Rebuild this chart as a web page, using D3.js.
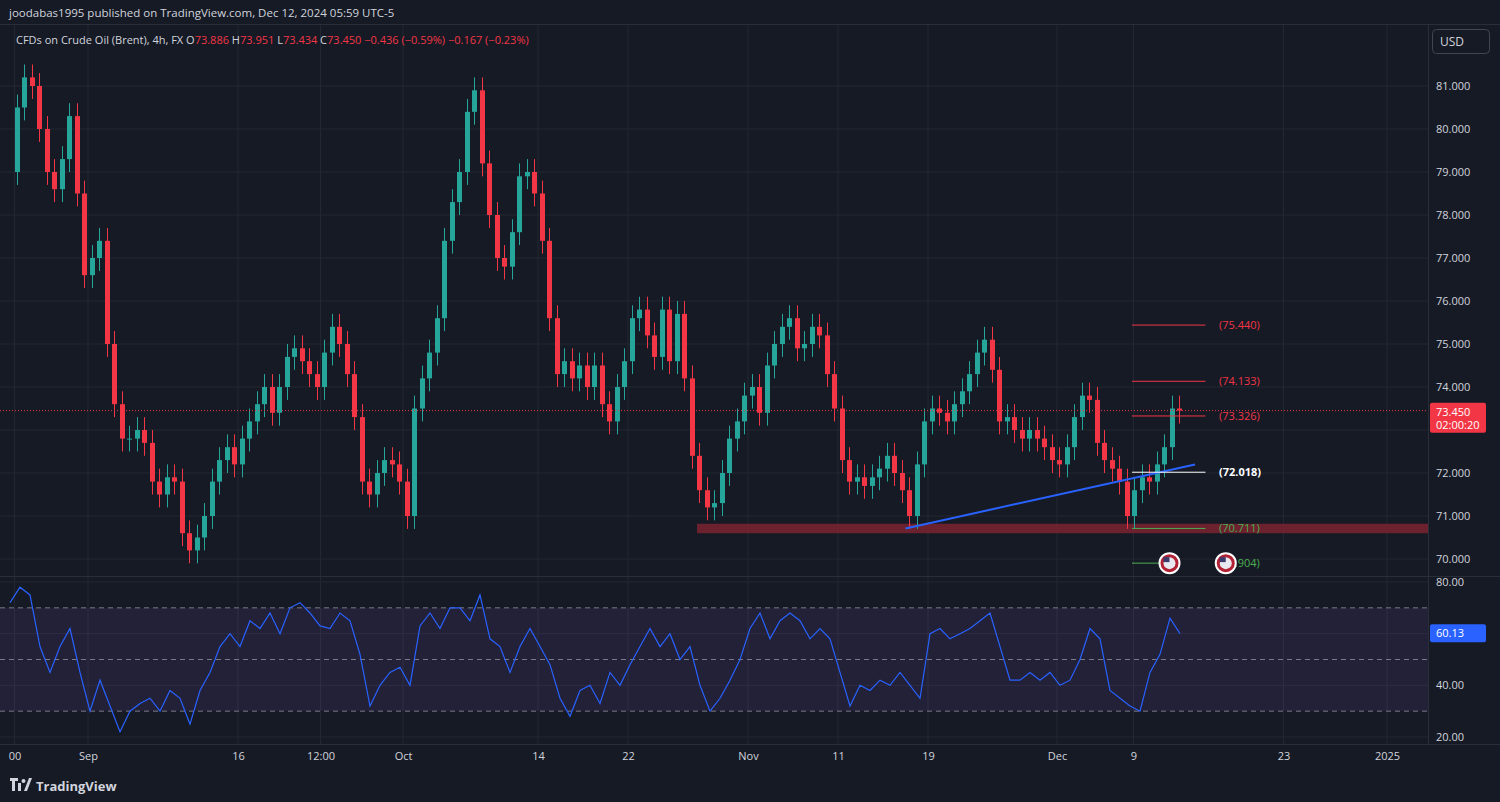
<!DOCTYPE html>
<html>
<head>
<meta charset="utf-8">
<script src="https://cdn.jsdelivr.net/npm/d3@7"></script>
<style>
  html, body { margin: 0; padding: 0; background: #161a25; }
  svg { display: block; font-family: "Open Sans", "DejaVu Sans", sans-serif; }
</style>
</head>
<body>
<svg id="chart" width="1500" height="802"></svg>
<script>
'use strict';

// 12h closes, starting Aug 26 (two per trading day)
var closes = [
  80.5, 81.2, 81.0, 80.0, 79.0, 78.6, 79.3, 80.3, 78.5, 76.6,
  77.0, 77.4, 75.0, 73.6, 72.8, 72.8, 73.0, 72.7, 71.8, 71.5,
  71.9, 71.8, 70.6, 70.2, 70.5, 71.0, 71.8, 72.3, 72.6, 72.2,
  72.8, 73.2, 73.6, 74.0, 73.4, 74.0, 74.7, 74.9, 74.6, 74.3,
  74.0, 74.8, 75.4, 75.0, 74.3, 73.3, 71.8, 71.5, 72.0, 72.3,
  72.2, 71.8, 71.0, 73.5, 74.2, 74.8, 75.6, 77.4, 78.3, 79.0,
  80.4, 80.9, 79.2, 78.0, 77.0, 76.8, 77.6, 78.9, 79.0, 78.5,
  77.4, 75.6, 74.3, 74.6, 74.2, 74.5, 74.0, 74.5, 73.6, 73.2,
  74.0, 74.6, 75.6, 75.8, 75.2, 74.7, 75.8, 74.6, 75.7, 74.2,
  72.4, 71.6, 71.2, 71.3, 72.0, 72.8, 73.2, 73.8, 74.0, 73.4,
  74.5, 75.0, 75.4, 75.6, 74.9, 75.0, 75.4, 75.2, 74.3, 73.5,
  72.3, 71.8, 71.9, 71.7, 71.9, 72.1, 72.4, 72.0, 71.6, 71.0,
  72.2, 73.2, 73.5, 73.4, 73.2, 73.6, 73.9, 74.3, 74.8, 75.1,
  74.4, 73.2, 73.3, 73.0, 72.8, 73.0, 72.8, 72.6, 72.3, 72.2,
  72.6, 73.3, 73.8, 73.7, 72.7, 72.3, 72.1, 71.8, 71.0, 71.6,
  71.9, 71.8, 72.2, 72.6, 73.5, 73.45
];
var firstOpen = 79.0;

// RSI(14) read every 10px from x=10
var rsi = [
  72, 78, 75, 55, 45, 55, 62, 45, 30, 42, 32, 22, 30, 33, 35, 30, 38, 35, 25, 38,
  45, 55, 60, 55, 65, 62, 68, 60, 70, 72, 68, 63, 62, 68, 65, 52, 32, 40, 45, 47,
  40, 63, 68, 62, 70, 70, 65, 75, 58, 55, 45, 55, 62, 55, 48, 35, 28, 38, 40, 33,
  45, 40, 48, 55, 62, 55, 60, 50, 55, 40, 30, 35, 42, 50, 62, 68, 58, 65, 68, 65,
  58, 62, 58, 45, 32, 40, 38, 42, 40, 45, 40, 35, 60, 62, 58, 60, 62, 65, 68, 55,
  42, 42, 45, 42, 45, 40, 42, 50, 62, 58, 38, 35, 32, 30, 45, 52, 66, 60
];

var priceTicks = [70, 71, 72, 73, 74, 75, 76, 77, 78, 79, 80, 81];
var rsiTicks = [20, 40, 80];
// day index 0 = Aug 26
var timeLabels = ['00', 'Sep', '16', '12:00', 'Oct', '14', '22', 'Nov', '11', '19', 'Dec', '9', '23', '2025'];
var timeDays = [0.1, 5, 15, 20.5, 26, 35, 41, 49, 55, 61, 69.6, 74.7, 84.7, 91.6];

var levelNames = ['(75.440)', '(74.133)', '(73.326)', '(72.018)', '(70.711)', '(69.904)'];
var levelValues = [75.44, 74.133, 73.326, 72.018, 70.711, 69.904];
var levelColors = ['#f23645', '#f23645', '#f23645', '#ffffff', '#4caf50', '#4caf50'];
var trendDays = [59.5, 78.8];
var trendPrices = [70.71, 72.2];
var lastPrice = 73.45;
var lastRsi = 60.13;

var UP = '#26a69a', DOWN = '#f23645', BG = '#161a25', GRID = '#232733', TXT = '#d1d4dc';
var PLOT_RIGHT = 1428;

var svg = d3.select('#chart');
svg.append('rect').attr('width', 1500).attr('height', 802).attr('fill', BG);

var x = d3.scaleLinear().domain([0, 94.5]).range([13, 1430.5]);
var y = d3.scaleLinear().domain([70, 81]).range([559, 86]);
var yr = d3.scaleLinear().domain([20, 80]).range([737, 582]);

svg.append('clipPath').attr('id', 'pc').append('rect')
    .attr('x', 0).attr('y', 24).attr('width', PLOT_RIGHT).attr('height', 552);
svg.append('clipPath').attr('id', 'rc').append('rect')
    .attr('x', 0).attr('y', 578).attr('width', PLOT_RIGHT).attr('height', 166);

// grid
var grid = svg.append('g').attr('stroke', GRID).attr('stroke-width', 1);
priceTicks.forEach(function (p) {
    grid.append('line').attr('x1', 0).attr('x2', PLOT_RIGHT).attr('y1', y(p)).attr('y2', y(p));
});
timeDays.forEach(function (d) {
    grid.append('line').attr('x1', x(d)).attr('x2', x(d)).attr('y1', 24).attr('y2', 744);
});
[20, 40, 60, 80].forEach(function (v) {
    grid.append('line').attr('x1', 0).attr('x2', PLOT_RIGHT).attr('y1', yr(v)).attr('y2', yr(v));
});

// pane borders
svg.append('line').attr('x1', 0).attr('x2', 1500).attr('y1', 576.5).attr('y2', 576.5).attr('stroke', '#2a2e39');
svg.append('line').attr('x1', PLOT_RIGHT + 0.5).attr('x2', PLOT_RIGHT + 0.5).attr('y1', 24).attr('y2', 744).attr('stroke', '#2a2e39');
svg.append('line').attr('x1', 0).attr('x2', 1500).attr('y1', 744.5).attr('y2', 744.5).attr('stroke', '#2a2e39');
svg.append('line').attr('x1', 0).attr('x2', 1500).attr('y1', 24.5).attr('y2', 24.5).attr('stroke', '#2a2e39');

var pane = svg.append('g').attr('clip-path', 'url(#pc)');

// support zone
pane.append('rect')
    .attr('x', x(45.6)).attr('width', PLOT_RIGHT - x(45.6))
    .attr('y', y(70.82)).attr('height', y(70.6) - y(70.82))
    .attr('fill', '#7a2330').attr('opacity', 0.85);

// candles
var candles = closes.map(function (c, i) {
    var o = i === 0 ? firstOpen : closes[i - 1];
    return { day: i * 0.5 + 0.25, o: o, c: c, h: Math.max(o, c) + 0.3, l: Math.min(o, c) - 0.3 };
});
var cg = pane.selectAll('g.candle').data(candles).enter().append('g')
    .attr('class', 'candle')
    .attr('fill', function (d) { return d.c >= d.o ? UP : DOWN; })
    .attr('stroke', function (d) { return d.c >= d.o ? UP : DOWN; });
cg.append('line')
    .attr('x1', function (d) { return Math.round(x(d.day)) + 0.5; })
    .attr('x2', function (d) { return Math.round(x(d.day)) + 0.5; })
    .attr('y1', function (d) { return y(d.h); })
    .attr('y2', function (d) { return y(d.l); });
cg.append('rect')
    .attr('stroke', 'none')
    .attr('x', function (d) { return Math.round(x(d.day)) - 2; })
    .attr('width', 5)
    .attr('y', function (d) { return y(Math.max(d.o, d.c)); })
    .attr('height', function (d) { return Math.max(1, Math.abs(y(d.o) - y(d.c))); });

// last price dotted line
pane.append('line').attr('x1', 0).attr('x2', PLOT_RIGHT)
    .attr('y1', y(lastPrice)).attr('y2', y(lastPrice))
    .attr('stroke', DOWN).attr('stroke-dasharray', '1,2');

// trend line
pane.append('line')
    .attr('x1', x(trendDays[0])).attr('y1', y(trendPrices[0]))
    .attr('x2', x(trendDays[1])).attr('y2', y(trendPrices[1]))
    .attr('stroke', '#2962ff').attr('stroke-width', 2);

// levels
levelValues.forEach(function (v, i) {
    var x2 = i === 5 ? x(77.8) : x(79.5);
    pane.append('line').attr('x1', x(74.6)).attr('x2', x2)
        .attr('y1', y(v)).attr('y2', y(v))
        .attr('stroke', levelColors[i]).attr('stroke-width', 1);
    pane.append('text').attr('x', x(80.4)).attr('y', y(v) + 4)
        .attr('fill', levelColors[i]).attr('font-size', 11)
        .attr('font-weight', i === 3 ? 'bold' : 'normal')
        .text(levelNames[i]);
});
// event flags
[77.1, 80.85].forEach(function (d) {
    var g = pane.append('g').attr('transform', 'translate(' + x(d) + ',' + y(69.904) + ')');
    g.append('circle').attr('r', 10).attr('fill', '#b22234').attr('stroke', '#ffffff').attr('stroke-width', 2);
    g.append('circle').attr('r', 6).attr('fill', '#e8e8f0');
    g.append('rect').attr('x', -6).attr('y', -6).attr('width', 6).attr('height', 5).attr('fill', '#3c3b6e');
});

// price axis
var pa = svg.append('g').attr('font-size', 11).attr('fill', TXT);
priceTicks.forEach(function (p) {
    if (p === 73) return;
    pa.append('text').attr('x', 1436).attr('y', y(p) + 4).text(d3.format('.3f')(p));
});
pa.append('rect').attr('x', 1430).attr('y', y(lastPrice) - 8).attr('width', 56).attr('height', 30)
    .attr('fill', DOWN).attr('rx', 2);
pa.append('text').attr('x', 1436).attr('y', y(lastPrice) + 5).attr('fill', '#fff').text(d3.format('.3f')(lastPrice));
pa.append('text').attr('x', 1436).attr('y', y(lastPrice) + 18).attr('fill', '#fff').text('02:00:20');

// USD button
svg.append('rect').attr('x', 1432.5).attr('y', 29.5).attr('width', 57).attr('height', 24).attr('rx', 4)
    .attr('fill', BG).attr('stroke', '#434651');
svg.append('text').attr('x', 1440).attr('y', 46).attr('fill', TXT).attr('font-size', 12).text('USD');

// RSI pane
var rp = svg.append('g').attr('clip-path', 'url(#rc)');
rp.append('rect').attr('x', 0).attr('width', PLOT_RIGHT).attr('y', yr(70)).attr('height', yr(30) - yr(70))
    .attr('fill', '#7e57c2').attr('opacity', 0.12);
[70, 50, 30].forEach(function (v) {
    rp.append('line').attr('x1', 0).attr('x2', PLOT_RIGHT).attr('y1', yr(v)).attr('y2', yr(v))
        .attr('stroke', '#787b86').attr('stroke-dasharray', '5,4');
});
var rsiLine = d3.line()
    .x(function (d, i) { return 10 + i * 10; })
    .y(function (d) { return yr(d); });
rp.append('path').datum(rsi).attr('d', rsiLine)
    .attr('fill', 'none').attr('stroke', '#2962ff').attr('stroke-width', 1.2);

var ra = svg.append('g').attr('font-size', 11).attr('fill', TXT);
rsiTicks.forEach(function (v) {
    ra.append('text').attr('x', 1436).attr('y', yr(v) + 4).text(d3.format('.2f')(v));
});
ra.append('rect').attr('x', 1430).attr('y', yr(lastRsi) - 9).attr('width', 56).attr('height', 18)
    .attr('fill', '#2962ff').attr('rx', 2);
ra.append('text').attr('x', 1436).attr('y', yr(lastRsi) + 4).attr('fill', '#fff').text(d3.format('.2f')(lastRsi));

// time axis
var xAxis = d3.axisBottom(x).tickValues(timeDays)
    .tickFormat(function (d, i) { return timeLabels[i]; }).tickSize(0).tickPadding(8);
var xa = svg.append('g').attr('transform', 'translate(0,744)').call(xAxis);
xa.select('.domain').remove();
xa.selectAll('text').attr('fill', TXT).attr('font-size', 11)
    .attr('font-family', '"Open Sans", "DejaVu Sans", sans-serif');

// header
svg.append('text').attr('x', 9).attr('y', 17).attr('fill', TXT).attr('font-size', 11.5)
    .text('joodabas1995 published on TradingView.com, Dec 12, 2024 05:59 UTC-5');
var hd = svg.append('text').attr('x', 16).attr('y', 44).attr('font-size', 11).attr('fill', TXT);
hd.append('tspan').text('CFDs on Crude Oil (Brent), 4h, FX  O');
hd.append('tspan').attr('fill', DOWN).text('73.886');
hd.append('tspan').text('  H');
hd.append('tspan').attr('fill', DOWN).text('73.951');
hd.append('tspan').text('  L');
hd.append('tspan').attr('fill', DOWN).text('73.434');
hd.append('tspan').text('  C');
hd.append('tspan').attr('fill', DOWN).text('73.450  \u22120.436 (\u22120.59%)  \u22120.167 (\u22120.23%)');

// footer logo
var ft = svg.append('g').attr('transform', 'translate(10,778)');
ft.append('path').attr('d', 'M0 0h8v3h-3v10h-3v-10h-2z M8 5h3v8h-3z').attr('fill', TXT);
ft.append('circle').attr('cx', 13.5).attr('cy', 3).attr('r', 2).attr('fill', TXT);
ft.append('path').attr('d', 'M14 13l5-13h3l-5 13z').attr('fill', TXT);
svg.append('text').attr('x', 36).attr('y', 791).attr('fill', TXT).attr('font-size', 13)
    .attr('font-weight', 'bold').text('TradingView');
</script>
</body>
</html>
